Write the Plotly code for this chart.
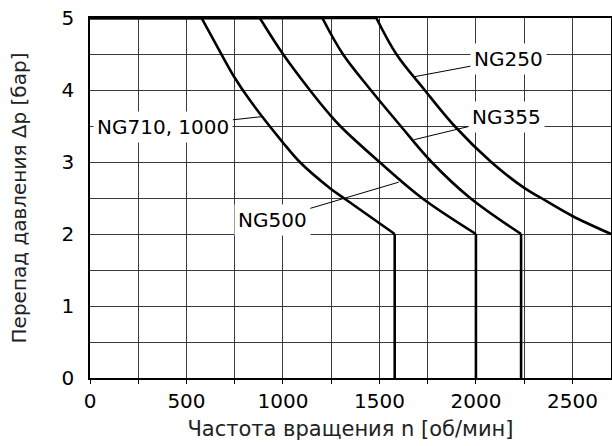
import plotly.graph_objects as go

# ---- data ----
ng710_x = [0, 578, 670, 750, 828, 1000, 1087, 1242, 1320, 1500, 1579, 1579]
ng710_y = [5, 5, 4.55, 4.17, 3.86, 3.27, 3.0, 2.64, 2.49, 2.15, 2.0, 0]

ng500_x = [0, 880, 1000, 1139, 1242, 1300, 1500, 1720, 2000, 2000]
ng500_y = [5, 5, 4.5, 4.0, 3.66, 3.49, 3.0, 2.5, 2.0, 0]

ng355_x = [0, 1204, 1310, 1455, 1610, 1770, 1970, 2234, 2234]
ng355_y = [5, 5, 4.5, 4.0, 3.5, 3.0, 2.5, 2.0, 0]

ng250_x = [0, 1484, 1587, 1734, 1889, 2079, 2250, 2338, 2500, 2700]
ng250_y = [5, 5, 4.5, 4.0, 3.5, 3.0, 2.64, 2.5, 2.25, 2.0]

x_ticks = [0, 500, 1000, 1500, 2000, 2500]
y_ticks = [0, 1, 2, 3, 4, 5]

# label texts, label centres and the curve points their leaders touch
labels = ["NG250", "NG355", "NG710, 1000", "NG500"]
label_x = [2169, 2158, 380, 945]
label_y = [4.43, 3.62, 3.48, 2.20]
tip_x = [1682, 1680, 890, 1600]
tip_y = [4.185, 3.31, 3.63, 2.72]

FONT = "DejaVu Sans"
FS = 20
LINE = dict(color="black", width=2.6)
fig = go.Figure()


def add(xs, ys, shape="linear"):
    fig.add_trace(go.Scatter(x=xs, y=ys, mode="lines", line=dict(LINE, shape=shape),
                             showlegend=False, hoverinfo="skip", cliponaxis=False))


for xs, ys in [(ng710_x, ng710_y), (ng500_x, ng500_y), (ng355_x, ng355_y), (ng250_x, ng250_y)]:
    iend = ys.index(2.0)
    add(xs[0:2], ys[0:2])                                  # flat part at 5 bar
    add(xs[1:iend + 1], ys[1:iend + 1], shape="spline")    # falling curve
    if len(xs) > iend + 1:
        add(xs[iend:], ys[iend:])                          # vertical drop

for t, lx, ly, tx, ty in zip(labels, label_x, label_y, tip_x, tip_y):
    fig.add_annotation(x=tx, y=ty, ax=lx, ay=ly, axref="x", ayref="y",
                       text=t, showarrow=True, arrowhead=0, arrowwidth=1,
                       arrowcolor="black", standoff=0, startstandoff=0,
                       bgcolor="white", borderpad=3,
                       font=dict(family=FONT, size=FS, color="black"))

grid_col = "#3a3a3a"
fig.update_xaxes(range=[0, 2700], tickvals=x_ticks, showgrid=True, gridcolor=grid_col,
                 gridwidth=1, minor=dict(dtick=250, showgrid=True, gridcolor=grid_col,
                                         gridwidth=1, ticks="outside", ticklen=4, tickcolor="black"),
                 ticks="outside", ticklen=4, tickcolor="black",
                 showline=True, linecolor="black", linewidth=1.5, mirror=True,
                 zeroline=False, automargin=False,
                 tickfont=dict(family=FONT, size=FS, color="black"),
                 title=dict(text="Частота вращения n [об/мин]", standoff=10,
                            font=dict(family=FONT, size=21, color="#222")))
fig.update_yaxes(range=[0, 5], tickvals=y_ticks, showgrid=True, gridcolor=grid_col,
                 gridwidth=1, minor=dict(dtick=0.5, showgrid=True, gridcolor=grid_col, gridwidth=1),
                 ticks="", ticklabelstandoff=10,
                 showline=True, linecolor="black", linewidth=1.5, mirror=True,
                 zeroline=False, automargin=False,
                 tickfont=dict(family=FONT, size=FS, color="black"),
                 title=dict(text="Перепад давления Δp [бар]", standoff=30,
                            font=dict(family=FONT, size=FS, color="#222")))
fig.update_layout(width=612, height=446, margin=dict(l=90, r=1, t=18, b=68),
                  plot_bgcolor="white", paper_bgcolor="white")
fig.write_html("out.html", config={"displayModeBar": False},
               post_script="document.body.style.margin='0';")
